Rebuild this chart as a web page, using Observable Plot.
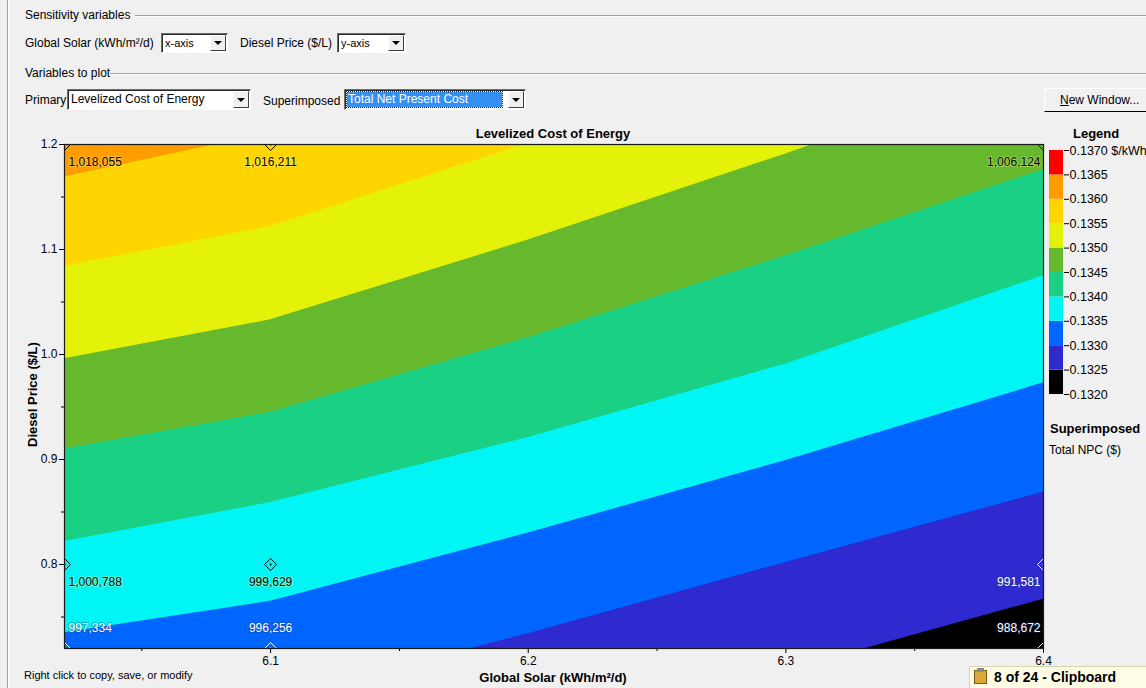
<!DOCTYPE html>
<html><head><meta charset="utf-8">
<script src="https://cdn.jsdelivr.net/npm/d3@7"></script>
<script src="https://cdn.jsdelivr.net/npm/@observablehq/plot@0.6"></script>
<style>
html,body{margin:0;padding:0;}
body{width:1146px;height:688px;overflow:hidden;background:#f0f0f0;position:relative;font-family:"Liberation Sans",Arial,sans-serif;color:#000;}
.abs{position:absolute;white-space:nowrap;}
.t12{font-size:12px;line-height:14px;}
.b13{font-size:13px;line-height:15px;font-weight:bold;}
.grp{position:absolute;height:0;border-top:1px solid #a0a0a0;border-bottom:1px solid #fff;}
.combo{position:absolute;box-sizing:border-box;background:#fff;border-style:solid;border-width:1px;border-color:#6d6d6d #fff #fff #6d6d6d;box-shadow:inset 1px 1px 0 #2b2b2b;}
.combo .txt{position:absolute;left:3px;top:3px;font-size:11px;line-height:13px;}
.combo .btn{position:absolute;right:1px;top:1px;bottom:1px;width:16px;box-sizing:border-box;background:#f0f0f0;border:1px solid;border-color:#fff #404040 #404040 #fff;}
.combo .btn:after{content:"";position:absolute;left:3px;top:50%;margin-top:-2px;border-left:4px solid transparent;border-right:4px solid transparent;border-top:4px solid #000;}
#main{position:absolute;left:0;top:120px;}
#legend{position:absolute;left:1040px;top:140px;}
#main svg,#legend svg{overflow:visible;}
</style></head>
<body>
<div class="abs" style="left:7px;top:0;width:1px;height:688px;background:#a0a0a0"></div>
<div class="abs" style="left:8px;top:0;width:1px;height:688px;background:#fff"></div>

<div class="abs t12" style="left:25px;top:8px">Sensitivity variables</div>
<div class="grp" style="left:135px;right:0;top:15px"></div>
<div class="abs t12" style="left:25px;top:36px">Global Solar (kWh/m²/d)</div>
<div class="combo" style="left:161px;top:33px;width:67px;height:20px"><span class="txt">x-axis</span><span class="btn"></span></div>
<div class="abs t12" style="left:240px;top:36px">Diesel Price ($/L)</div>
<div class="combo" style="left:337px;top:33px;width:69px;height:20px"><span class="txt">y-axis</span><span class="btn"></span></div>

<div class="abs t12" style="left:25px;top:66px">Variables to plot</div>
<div class="grp" style="left:110px;right:0;top:73px"></div>
<div class="abs t12" style="left:25px;top:93px">Primary</div>
<div class="combo" style="left:67px;top:89px;width:184px;height:21px"><span class="txt" style="font-size:12px;top:3px">Levelized Cost of Energy</span><span class="btn"></span></div>
<div class="abs t12" style="left:263px;top:94px">Superimposed</div>
<div class="combo" style="left:344px;top:89px;width:182px;height:21px"><span class="abs" style="left:2px;top:2px;width:155px;height:15px;background:#3390f0;outline:1px dotted #222"></span><span class="txt" style="font-size:12px;top:3px;color:#fff">Total Net Present Cost</span><span class="btn"></span></div>

<div class="abs t12" style="left:1044px;top:88px;width:110px;height:24px;box-sizing:border-box;border:1px solid;border-color:#fff #000 #000 #fff;background:#f0f0f0;padding:4px 0 0 15px"><u>N</u>ew Window...</div>

<div class="abs b13" style="left:453px;width:200px;text-align:center;top:126px">Levelized Cost of Energy</div>
<div class="abs b13" style="left:1073px;top:126px">Legend</div>

<div id="main"></div>
<div id="legend"></div>

<div class="abs b13" style="left:1050px;top:421px">Superimposed</div>
<div class="abs t12" style="left:1049px;top:443px">Total NPC ($)</div>

<div class="abs b13" style="left:453px;width:200px;text-align:center;top:670px">Global Solar (kWh/m²/d)</div>
<div class="abs b13" style="left:-68px;width:200px;text-align:center;top:387px;transform:rotate(-90deg)">Diesel Price ($/L)</div>
<div class="abs" style="left:24px;top:669px;font-size:11px;line-height:13px">Right click to copy, save, or modify</div>

<div class="abs" style="left:969px;top:666px;width:177px;height:22px;background:#fffde6;border-top:1px solid #d8d4b0;border-left:1px solid #d8d4b0;box-sizing:border-box">
  <span class="abs" style="left:4px;top:3px;width:13px;height:14px;background:#d9a93a;border:1px solid #7a5a10;box-sizing:border-box"></span>
  <span class="abs" style="left:7px;top:1px;width:7px;height:4px;background:#888;"></span>
  <span class="abs b13" style="left:24px;top:3px;font-size:14px">8 of 24 - Clipboard</span>
</div>

<script>
// ---- data ----
const thresholds = [0.1320, 0.1325, 0.1330, 0.1335, 0.1340, 0.1345, 0.1350, 0.1355, 0.1360, 0.1365, 0.1370];
const bandColors = ["#000000", "#2e2ad0", "#0066ff", "#00f6f4", "#19d084", "#66b82c", "#e4f20a", "#ffd500", "#ff9c00", "#ff0000"];

const xTicks = [6.1, 6.2, 6.3, 6.4];
const xMinorTicks = [6.05, 6.15, 6.25, 6.35];
const yTicks = [0.8, 0.9, 1.0, 1.1, 1.2];
const yMinorTicks = [0.75, 0.85, 0.95, 1.05, 1.15];

// Global solar values at which the LCOE contour lines were read
const solarSamples = [6.02, 6.1, 6.2, 6.3, 6.4];
// Diesel price ($/L) along each LCOE contour line ($/kWh)
const diesel_1325 = [0.543, 0.572, 0.633, 0.699, 0.767];
const diesel_1330 = [0.641, 0.671, 0.734, 0.802, 0.869];
const diesel_1335 = [0.735, 0.765, 0.830, 0.899, 0.973];
const diesel_1340 = [0.822, 0.859, 0.921, 0.991, 1.075];
const diesel_1345 = [0.910, 0.945, 1.016, 1.094, 1.176];
const diesel_1350 = [0.996, 1.033, 1.109, 1.191, 1.277];
const diesel_1355 = [1.084, 1.122, 1.201, 1.281, 1.361];
const diesel_1360 = [1.169, 1.211, 1.296, 1.381, 1.468];

// Superimposed Total NPC ($) at the sensitivity points
const npcSolar = [6.02, 6.1, 6.4];
const npcDiesel = [0.72, 0.8, 1.2];
const npcAt072 = [997334, 996256, 988672];
const npcAt080 = [1000788, 999629, 991581];
const npcAt120 = [1018055, 1016211, 1006124];

// ---- build ----
const font = "'Liberation Sans', Arial, sans-serif";
const yMin = d3.min(npcDiesel), yMax = d3.max(npcDiesel);
const xMin = d3.min(npcSolar), xMax = d3.max(npcSolar);

const contourLines = [
  {level: 0.1360, diesel: diesel_1360},
  {level: 0.1355, diesel: diesel_1355},
  {level: 0.1350, diesel: diesel_1350},
  {level: 0.1345, diesel: diesel_1345},
  {level: 0.1340, diesel: diesel_1340},
  {level: 0.1335, diesel: diesel_1335},
  {level: 0.1330, diesel: diesel_1330},
  {level: 0.1325, diesel: diesel_1325}
];
const bandIndex = lvl => thresholds.findIndex(t => Math.abs(t - lvl) < 1e-9);

const squareDiamond = {
  draw(ctx, size) {
    const r = Math.sqrt(size / Math.PI);
    ctx.moveTo(0, -r); ctx.lineTo(r, 0); ctx.lineTo(0, r); ctx.lineTo(-r, 0); ctx.closePath();
  }
};

const marks = [Plot.frame({fill: bandColors[bandIndex(0.1360)]})];
for (const L of contourLines) {
  const pts = solarSamples.map((s, i) => ({solar: s, diesel: L.diesel[i]}));
  marks.push(Plot.areaY(pts, {x: "solar", y1: yMin, y2: "diesel", fill: bandColors[bandIndex(L.level) - 1], clip: true}));
}

const npcRows = [npcAt072, npcAt080, npcAt120];
const fmt = d3.format(",");
npcDiesel.forEach((d, r) => {
  npcSolar.forEach((s, c) => {
    const p = [{solar: s, diesel: d, npc: npcRows[r][c]}];
    const dark = d < 0.75 || (c === 2 && d < 1);
    const col = dark ? "#ffffff" : "#000000";
    const halo = dark ? "#203080" : "#ffffa0";
    marks.push(Plot.dot(p, {x: "solar", y: "diesel", symbol: squareDiamond, r: 6, stroke: col, strokeWidth: 1, fill: "none", clip: true}));
    marks.push(Plot.dot(p, {x: "solar", y: "diesel", r: 1, fill: col, clip: true}));
    marks.push(Plot.text(p, {
      x: "solar", y: "diesel", text: q => fmt(q.npc),
      textAnchor: c === 0 ? "start" : c === 1 ? "middle" : "end",
      dx: c === 0 ? 4 : c === 2 ? -3 : 0,
      dy: r === 0 ? -20 : 18,
      fill: col, stroke: halo, strokeOpacity: 0.35, strokeWidth: 2, fontSize: 12
    }));
  });
});

marks.push(
  Plot.axisX({ticks: xTicks, tickFormat: d3.format(".1f"), tickSize: 5, tickPadding: 3, label: null}),
  Plot.axisX({ticks: xMinorTicks, tickFormat: () => "", tickSize: 3, label: null}),
  Plot.axisY({ticks: yTicks, tickFormat: d3.format(".1f"), tickSize: 5, tickPadding: 2, label: null}),
  Plot.axisY({ticks: yMinorTicks, tickFormat: () => "", tickSize: 3, label: null}),
  Plot.frame({stroke: "#1a1a1a", strokeWidth: 1.2})
);

const chart = Plot.plot({
  width: 1146, height: 568,
  marginLeft: 64, marginRight: 103, marginTop: 24, marginBottom: 40,
  x: {domain: [xMin, xMax]},
  y: {domain: [yMin, yMax]},
  style: {fontSize: "12px", fontFamily: font, background: "transparent", color: "#000"},
  marks
});
document.getElementById("main").appendChild(chart);

// ---- legend ----
const bins = bandColors.map((c, i) => ({lo: thresholds[i], hi: thresholds[i + 1], c}));
const topT = thresholds[thresholds.length - 1];
const legend = Plot.plot({
  width: 106, height: 270,
  marginLeft: 9, marginRight: 83, marginTop: 10, marginBottom: 16,
  x: {domain: [0, 1], axis: null},
  y: {domain: [thresholds[0], topT], axis: null},
  color: {type: "identity"},
  style: {fontSize: "12.5px", fontFamily: font, background: "transparent", color: "#000"},
  marks: [
    Plot.rect(bins, {x1: 0, x2: 1, y1: "lo", y2: "hi", fill: "c"}),
    Plot.axisY({anchor: "right", ticks: thresholds, tickSize: 5, tickPadding: 1, label: null,
      tickFormat: d => d3.format(".4f")(d) + (Math.abs(d - topT) < 1e-9 ? " $/kWh" : "")})
  ]
});
document.getElementById("legend").appendChild(legend);
</script>
</body></html>
